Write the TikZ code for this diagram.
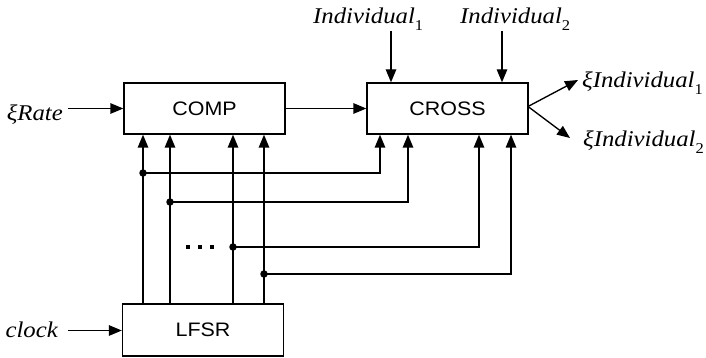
\documentclass[tikz,border=0pt]{standalone}
\usepackage{fontspec}
\setmainfont{Liberation Serif}
\newfontfamily\lblfont[FakeStretch=1.1]{Liberation Serif}
\newfontfamily\boxfont[FakeStretch=1.1]{Liberation Sans}
\usetikzlibrary{arrows.meta}

% italic signal label with an upright lowered index
\newcommand{\sig}[2]{#1\raisebox{-0.28em}{\upshape\fontsize{15}{15}\selectfont #2}}

\tikzset{
  wire/.style={line width=1.35pt, black},
  arr/.style={wire, -{Triangle[length=13pt,width=10.5pt]}},
  block/.style={draw, line width=1.35pt, minimum width=161pt, minimum height=51pt,
                inner sep=0pt, font=\boxfont\fontsize{19.5}{20}\selectfont},
  lbl/.style={inner sep=0pt, font=\lblfont\itshape\fontsize{22.5}{24}\selectfont},
  joint/.style={circle, fill=black, inner sep=0pt, minimum size=7.5pt},
  dotmark/.style={fill=black, inner sep=0pt, minimum size=3.2pt}
}

\begin{document}
\begin{tikzpicture}[x=1pt, y=-1pt]
  \useasboundingbox (0,0) rectangle (706,358);

  % blocks
  \node[block] (comp)  at (204.5,108.5) {COMP};
  \node[block] (cross) at (447.5,108.5) {CROSS};
  \node[block, minimum height=52pt] (lfsr) at (203,330) {LFSR};

  % external labels
  \node[lbl, anchor=base east] (rate)  at (63,121)  {ξRate};
  \node[lbl, anchor=base east] (clock) at (58,337)  {clock};
  \node[lbl, anchor=base west] (ind1)  at (313,24)  {\sig{Individual}{1}};
  \node[lbl, anchor=base west] (ind2)  at (460,24)  {\sig{Individual}{2}};
  \node[lbl, anchor=base west] (out1)  at (582,88)  {\sig{ξIndividual}{1}};
  \node[lbl, anchor=base west] (out2)  at (583,147) {\sig{ξIndividual}{2}};

  % inputs
  \coordinate (rs) at (68,108.5);
  \draw[arr] (rs) -- (comp.west);
  \coordinate (cs) at (68,330.5);
  \draw[arr] (cs) -- (cs -| lfsr.west);
  \coordinate (i1) at (391,31);
  \coordinate (i2) at (502,31);
  \draw[arr] (i1) -- (i1 |- cross.north);
  \draw[arr] (i2) -- (i2 |- cross.north);

  % COMP -> CROSS
  \draw[arr] (comp.east) -- (cross.west);

  % outputs
  \coordinate (o1) at (578,80);
  \coordinate (o2) at (570,138);
  \coordinate (ce) at (528,106.5);
  \draw[arr] (ce) -- (o1);
  \draw[arr] (ce) -- (o2);

  % LFSR taps feeding COMP
  \coordinate (t1) at (143,0);
  \coordinate (t2) at (170,0);
  \coordinate (t3) at (233,0);
  \coordinate (t4) at (264,0);
  \foreach \t in {t1,t2,t3,t4}
    \draw[arr] (\t |- lfsr.north) -- (\t |- comp.south);

  % branches of the taps feeding CROSS
  \coordinate (j1) at (143,173);
  \coordinate (j2) at (170,202);
  \coordinate (j3) at (233,247);
  \coordinate (j4) at (264,274);
  \coordinate (c1) at (380,0);
  \coordinate (c2) at (408,0);
  \coordinate (c3) at (479,0);
  \coordinate (c4) at (511,0);
  \draw[arr] (j1) -- (j1 -| c1) -- (c1 |- cross.south);
  \draw[arr] (j2) -- (j2 -| c2) -- (c2 |- cross.south);
  \draw[arr] (j3) -- (j3 -| c3) -- (c3 |- cross.south);
  \draw[arr] (j4) -- (j4 -| c4) -- (c4 |- cross.south);
  \foreach \j in {j1,j2,j3,j4}
    \node[joint] at (\j) {};

  % ellipsis between the taps
  \node[dotmark] (e1) at (188,247) {};
  \node[dotmark] (e2) at (200,247) {};
  \node[dotmark] (e3) at (212,247) {};
\end{tikzpicture}
\end{document}
